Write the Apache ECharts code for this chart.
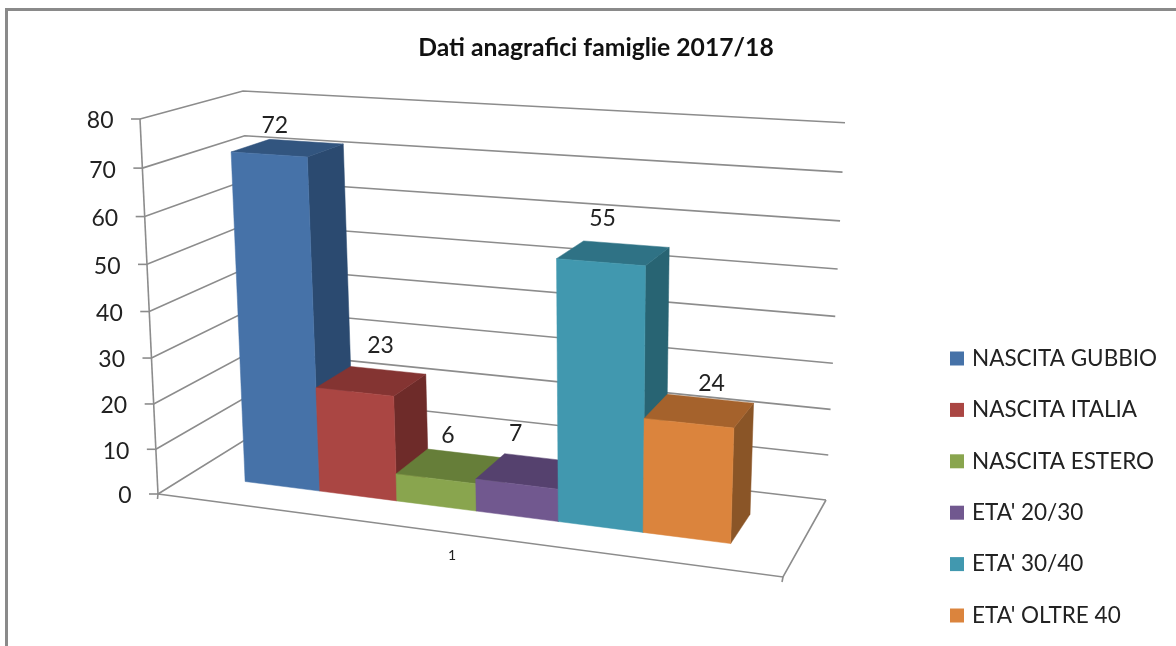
<!DOCTYPE html>
<html>
<head>
<meta charset="utf-8">
<style>
  html, body { margin: 0; padding: 0; background: #fff; }
  #chart { width: 1176px; height: 646px; }
</style>
<script src="https://cdn.jsdelivr.net/npm/echarts@6/dist/echarts.min.js"></script>
</head>
<body>
<div id="chart"></div>
<script>
const categories = ['1']
const seriesNames = ['NASCITA GUBBIO', 'NASCITA ITALIA', 'NASCITA ESTERO', "ETA' 20/30", "ETA' 30/40", "ETA' OLTRE 40"]
const seriesValues = [72, 23, 6, 7, 55, 24]
const yTicks = [0, 10, 20, 30, 40, 50, 60, 70, 80]

const frontColors = ['#4672a8', '#aa4643', '#89a54e', '#71588f', '#4198af', '#db843d']
const topColors = ['#32557f', '#843432', '#667e39', '#55416e', '#2f7285', '#a5622c']
const sideColors = ['#2b4a70', '#6e2b29', '#5a7032', '#4a3860', '#286473', '#8a5527']
const labelNudge = [[-13, -22], [9, -35], [-3, -30], [-15, -37], [-11, -34], [12, -27]]

// box corners on screen: front-left, front-right, back-right, back-left
const floorQuad = [[158, 494], [783, 577], [826, 500], [256, 433]]
const roofQuad = [[140, 119], [800, 160], [845, 122.7], [243, 91]]
const vertBend = 0.055 // higher values are closer to the camera
const barSpan = [0.102, 0.902] // part of the band the six bars fill
const barDepth = [0.3, 0.69]
const lineColor = '#8c8c8c'
const textColor = '#222'
const fontName = 'Lato'

function quadMap(q) {
  const [p0, p1, p2, p3] = q
  const dx1 = p1[0] - p2[0], dx2 = p3[0] - p2[0], sx = p0[0] - p1[0] + p2[0] - p3[0]
  const dy1 = p1[1] - p2[1], dy2 = p3[1] - p2[1], sy = p0[1] - p1[1] + p2[1] - p3[1]
  const den = dx1 * dy2 - dx2 * dy1
  const g = (sx * dy2 - dx2 * sy) / den
  const h = (dx1 * sy - sx * dy1) / den
  const a = p1[0] - p0[0] + g * p1[0], b = p3[0] - p0[0] + h * p3[0]
  const d = p1[1] - p0[1] + g * p1[1], e = p3[1] - p0[1] + h * p3[1]
  return (u, w) => {
    const z = g * u + h * w + 1
    return [(a * u + b * w + p0[0]) / z, (d * u + e * w + p0[1]) / z]
  }
}

const floorAt = quadMap(floorQuad)
const roofAt = quadMap(roofQuad)

// u, w on the floor (0..1), t = height from the y axis scale (0..1)
function project(u, w, t) {
  const f = t / (1 + vertBend - vertBend * t)
  const a = floorAt(u, w), b = roofAt(u, w)
  return [a[0] + (b[0] - a[0]) * f, a[1] + (b[1] - a[1]) * f]
}

function heightOf(api, params, v) {
  const g = params.coordSys
  return (g.y + g.height - api.coord([0, v])[1]) / g.height
}

function renderFrame(params, api) {
  const v = api.value(0)
  const t = heightOf(api, params, v)
  const a = project(0, 0, t), b = project(0, 1, t), c = project(1, 1, t)
  const lineStyle = { stroke: lineColor, lineWidth: 1.6, fill: null }
  const children = [
    { type: 'polyline', shape: { points: [a, b, c] }, style: lineStyle },
    { type: 'line', shape: { x1: a[0] - 9, y1: a[1], x2: a[0], y2: a[1] }, style: lineStyle },
    {
      type: 'text',
      style: {
        text: String(v), x: a[0] - 26.5, y: a[1] + 2,
        align: 'right', verticalAlign: 'middle',
        font: '23px ' + fontName, fill: textColor,
      },
    },
  ]
  if (v === 0) {
    const fr = project(1, 0, 0), br = project(1, 1, 0), top = project(0, 0, 1)
    children.push(
      { type: 'polyline', shape: { points: [top, a] }, style: lineStyle },
      { type: 'polyline', shape: { points: [a, fr, br] }, style: lineStyle },
      { type: 'line', shape: { x1: a[0], y1: a[1], x2: a[0] - 0.5, y2: a[1] + 5 }, style: lineStyle },
      { type: 'line', shape: { x1: fr[0], y1: fr[1], x2: fr[0] - 1, y2: fr[1] + 5 }, style: lineStyle },
      {
        type: 'text',
        style: {
          text: categories[0], x: 452, y: 555,
          align: 'center', verticalAlign: 'middle',
          font: '14px ' + fontName, fill: textColor,
        },
      }
    )
  }
  return { type: 'group', children }
}

function renderBar(idx) {
  return function (params, api) {
    const g = params.coordSys
    const band = api.size([1, 0])[0]
    const left = api.coord([0, 0])[0] - band / 2
    const step = (barSpan[1] - barSpan[0]) * band / seriesNames.length
    const u0 = (left + barSpan[0] * band + idx * step - g.x) / g.width
    const u1 = u0 + step / g.width
    const t = heightOf(api, params, api.value(1))
    const [w0, w1] = barDepth
    const p = (u, w, h) => project(u, w, h)
    const poly = (points, fill) => ({
      type: 'polygon', shape: { points }, style: { fill, stroke: fill, lineWidth: 0.5 },
    })
    const anchor = p((u0 + u1) / 2, (w0 + w1) / 2, t)
    return {
      type: 'group',
      children: [
        poly([p(u1, w0, 0), p(u1, w1, 0), p(u1, w1, t), p(u1, w0, t)], sideColors[idx]),
        poly([p(u0, w0, t), p(u1, w0, t), p(u1, w1, t), p(u0, w1, t)], topColors[idx]),
        poly([p(u0, w0, 0), p(u1, w0, 0), p(u1, w0, t), p(u0, w0, t)], api.visual('color')),
        {
          type: 'text',
          style: {
            text: String(api.value(1)),
            x: anchor[0] + labelNudge[idx][0], y: anchor[1] + labelNudge[idx][1],
            align: 'center', verticalAlign: 'middle',
            font: '23px ' + fontName, fill: textColor,
          },
        },
      ],
    }
  }
}

const barSeries = seriesNames.map((name, i) => ({
  name,
  type: 'custom',
  coordinateSystem: 'cartesian2d',
  itemStyle: { color: frontColors[i] },
  encode: { x: 0, y: 1 },
  data: [[categories[0], seriesValues[i]]],
  renderItem: renderBar(i),
  silent: true,
}))

const myChart = echarts.init(document.getElementById('chart'))
myChart.setOption({
  animation: false,
  backgroundColor: '#fff',
  title: {
    text: 'Dati anagrafici famiglie 2017/18',
    left: 591,
    top: 31,
    textAlign: 'center',
    textStyle: { color: '#111', fontFamily: fontName, fontWeight: 'bold', fontSize: 24.7 },
  },
  legend: {
    data: seriesNames,
    orient: 'vertical',
    left: 950,
    top: 347,
    padding: 0,
    icon: 'rect',
    itemWidth: 14,
    itemHeight: 14,
    itemGap: 28.4,
    selectedMode: false,
    textStyle: { color: textColor, fontFamily: fontName, fontSize: 22.5, padding: [0, 0, 0, 3] },
  },
  grid: { left: 160, right: 350, top: 120, bottom: 150 },
  xAxis: { type: 'category', data: categories, show: false },
  yAxis: { type: 'value', min: 0, max: 80, interval: 10, show: false },
  graphic: [
    { type: 'line', shape: { x1: 5, y1: 9.5, x2: 1176, y2: 9.5 }, style: { stroke: '#8a8a8a', lineWidth: 3 } },
    { type: 'line', shape: { x1: 6.5, y1: 8, x2: 6.5, y2: 646 }, style: { stroke: '#8a8a8a', lineWidth: 3 } },
  ],
  series: [
    {
      name: 'griglia',
      type: 'custom',
      coordinateSystem: 'cartesian2d',
      encode: { y: 0 },
      data: yTicks.map((v) => [v]),
      renderItem: renderFrame,
      silent: true,
    },
    ...barSeries,
  ],
})
</script>
</body>
</html>
